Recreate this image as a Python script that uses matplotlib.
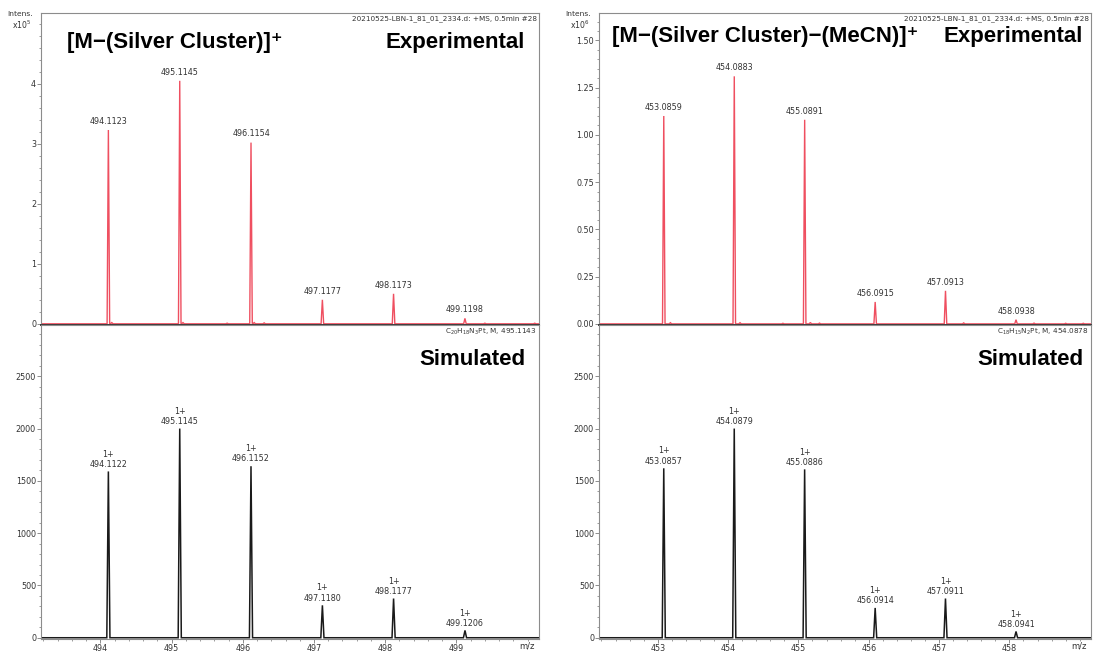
"""
Isotope pattern figure: experimental (red) vs simulated (black) HR-MS
for the two platinum fragments.
Output: out.png (1094 x 652 px)
"""

import numpy as np
import matplotlib
matplotlib.use("Agg")
import matplotlib.pyplot as plt
from matplotlib.ticker import MultipleLocator, FormatStrFormatter

# ─── Data ────────────────────────────────────────────────────────────────────
# Left: [M-(Silver Cluster)]+   experimental intensity in units of 1e5
L_EXP_MZ   = [494.1123, 495.1145, 496.1154, 497.1177, 498.1173, 499.1198]
L_EXP_INT  = [3.23, 4.05, 3.02, 0.40, 0.50, 0.09]
L_NOISE_MZ = [494.16, 495.16, 495.78, 496.16, 496.30, 499.40, 500.10]
L_NOISE_IN = [0.02, 0.02, 0.01, 0.02, 0.015, 0.01, 0.01]
L_SIM_MZ   = [494.1122, 495.1145, 496.1152, 497.1180, 498.1177, 499.1206]
L_SIM_INT  = [1590, 2000, 1640, 310, 375, 70]
L_YTICKS   = [0, 1, 2, 3, 4]
L_XTICKS   = [494, 495, 496, 497, 498, 499]

# Right: [M-(Silver Cluster)-(MeCN)]+   experimental intensity in units of 1e6
R_EXP_MZ   = [453.0859, 454.0883, 455.0891, 456.0915, 457.0913, 458.0938]
R_EXP_INT  = [1.10, 1.31, 1.08, 0.116, 0.175, 0.022]
R_NOISE_MZ = [453.18, 454.17, 454.78, 455.17, 455.30, 457.35, 458.35, 458.80, 459.05]
R_NOISE_IN = [0.006, 0.006, 0.003, 0.007, 0.004, 0.005, 0.004, 0.003, 0.003]
R_SIM_MZ   = [453.0857, 454.0879, 455.0886, 456.0914, 457.0911, 458.0941]
R_SIM_INT  = [1620, 2000, 1610, 285, 375, 60]
R_YTICKS   = [0.0, 0.25, 0.50, 0.75, 1.00, 1.25, 1.50]
R_XTICKS   = [453, 454, 455, 456, 457, 458]

SIM_YTICKS = [0, 500, 1000, 1500, 2000, 2500]

L_XLIM = (493.166, 500.16)
R_XLIM = (452.165, 459.16)

FILE_TXT = "20210525-LBN-1_81_01_2334.d: +MS, 0.5min #28"
L_FORMULA = r"C$_{20}$H$_{18}$N$_{3}$Pt, M, 495.1143"
R_FORMULA = r"C$_{18}$H$_{15}$N$_{2}$Pt, M, 454.0878"
L_TITLE = "[M\u2212(Silver Cluster)]\u207a"
R_TITLE = "[M\u2212(Silver Cluster)\u2212(MeCN)]\u207a"

# ─── Style ───────────────────────────────────────────────────────────────────
RED   = "#ef4f60"
BLACK = "#1a1a1a"
FRAME = "#8c8c8c"
TXT   = "#333333"
BOLD_FONT = ["Liberation Sans", "DejaVu Sans"]
W, H = 1094, 652

plt.rcParams["font.family"] = ["DejaVu Sans"]


def spectrum(mz, inten, xlim, half_width):
    """Stick list -> continuous profile (narrow triangles on a zero baseline)."""
    order = np.argsort(mz)
    xs, ys = [xlim[0]], [0.0]
    for i in order:
        c, h = mz[i], inten[i]
        xs += [c - half_width, c, c + half_width]
        ys += [0.0, h, 0.0]
    xs.append(xlim[1])
    ys.append(0.0)
    return np.array(xs), np.array(ys)


def style_axes(ax):
    for s in ax.spines.values():
        s.set_color(FRAME)
        s.set_linewidth(0.8)
    ax.tick_params(which="both", direction="out", colors=FRAME,
                   labelcolor=TXT, labelsize=5.8, pad=1.0)
    ax.tick_params(which="major", length=2.6, width=0.7)
    ax.tick_params(which="minor", length=1.4, width=0.6)


def fig_axes(fig, x0, y_top, w, h):
    return fig.add_axes([x0 / W, 1 - (y_top + h) / H, w / W, h / H])


def draw_pair(fig, x0, width, exp_mz, exp_int, noise_mz, noise_in, sim_mz,
              sim_int, xlim, ylim_top, yticks, yminor, yfmt, xticks, exponent,
              title, formula, title_x, title_y, right_x):
    ax_t = fig_axes(fig, x0, 13, width, 312)
    ax_b = fig_axes(fig, x0, 325, width, 314)

    # ── experimental ──
    all_mz = list(exp_mz) + list(noise_mz)
    all_in = list(exp_int) + list(noise_in)
    xs, ys = spectrum(all_mz, all_in, xlim, 0.018)
    ax_t.plot(xs, ys, color=RED, lw=1.0, solid_joinstyle="miter")
    ax_t.set_xlim(*xlim)
    ax_t.set_ylim(*ylim_top)
    ax_t.set_yticks(yticks)
    ax_t.yaxis.set_minor_locator(MultipleLocator(yminor))
    ax_t.yaxis.set_major_formatter(FormatStrFormatter(yfmt))
    ax_t.set_xticks([])
    style_axes(ax_t)
    ax_t.spines["bottom"].set_color("#3a3a3a")
    ax_t.spines["bottom"].set_linewidth(1.4)
    for m, v in zip(exp_mz, exp_int):
        ax_t.annotate(f"{m:.4f}", xy=(m, v), xytext=(0, 3),
                      textcoords="offset points", ha="center", va="bottom",
                      fontsize=5.8, color=TXT)

    ax_t.text(0.996, 0.994, FILE_TXT, transform=ax_t.transAxes, ha="right",
              va="top", fontsize=5.2, color=TXT)
    ax_t.text(title_x, title_y, title, transform=ax_t.transAxes, ha="left",
              va="center", fontsize=16, fontweight="bold", family=BOLD_FONT,
              color="black")
    ax_t.text(right_x, title_y, "Experimental", transform=ax_t.transAxes,
              ha="right", va="center", fontsize=16, fontweight="bold",
              family=BOLD_FONT, color="black")

    # intensity label above the y axis
    fig.text((x0 - 21) / W, 1 - 14 / H, "Intens.", ha="center", va="center",
             fontsize=5.4, color=TXT)
    fig.text((x0 - 19) / W, 1 - 25 / H, f"x10$^{exponent}$", ha="center",
             va="center", fontsize=5.6, color=TXT)

    # ── simulated ──
    xs, ys = spectrum(sim_mz, sim_int, xlim, 0.022)
    ax_b.plot(xs, ys, color=BLACK, lw=1.1, solid_joinstyle="miter")
    ax_b.set_xlim(*xlim)
    ax_b.set_ylim(-12, 2990)
    ax_b.set_yticks(SIM_YTICKS)
    ax_b.yaxis.set_minor_locator(MultipleLocator(100))
    ax_b.set_xticks(xticks)
    ax_b.xaxis.set_minor_locator(MultipleLocator(0.2))
    ax_b.xaxis.set_major_formatter(FormatStrFormatter("%d"))
    style_axes(ax_b)
    for m, v in zip(sim_mz, sim_int):
        ax_b.annotate(f"1+\n{m:.4f}", xy=(m, v), xytext=(0, 2),
                      textcoords="offset points", ha="center", va="bottom",
                      fontsize=5.8, color=TXT, linespacing=1.15)

    ax_b.text(0.996, 0.994, formula, transform=ax_b.transAxes, ha="right",
              va="top", fontsize=5.2, color=TXT)
    ax_b.text(right_x, 0.889, "Simulated", transform=ax_b.transAxes,
              ha="right", va="center", fontsize=16, fontweight="bold",
              family=BOLD_FONT, color="black")
    ax_b.text(0.975, -0.022, "m/z", transform=ax_b.transAxes, ha="center",
              va="center", fontsize=6, color=TXT)
    return ax_t, ax_b


def main():
    fig = plt.figure(figsize=(W / 100, H / 100), dpi=100)
    fig.patch.set_facecolor("white")

    draw_pair(fig, 41, 498, L_EXP_MZ, L_EXP_INT, L_NOISE_MZ, L_NOISE_IN,
              L_SIM_MZ, L_SIM_INT, L_XLIM, (-0.02, 5.18), L_YTICKS, 0.2, "%d",
              L_XTICKS, 5, L_TITLE, L_FORMULA, 0.052, 0.907, 0.972)
    draw_pair(fig, 599, 492, R_EXP_MZ, R_EXP_INT, R_NOISE_MZ, R_NOISE_IN,
              R_SIM_MZ, R_SIM_INT, R_XLIM, (-0.006, 1.645), R_YTICKS, 0.05,
              "%.2f", R_XTICKS, 6, R_TITLE, R_FORMULA, 0.026, 0.925, 0.984)

    fig.savefig("out.png", dpi=100)
    plt.close(fig)


if __name__ == "__main__":
    main()
